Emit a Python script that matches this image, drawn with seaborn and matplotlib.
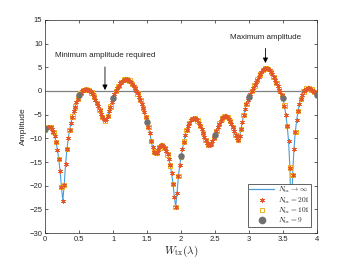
import numpy as np
import pandas as pd
import matplotlib
matplotlib.use('Agg')
import matplotlib.pyplot as plt
from matplotlib.lines import Line2D
import seaborn as sns

# amplitude, W_tx from 0 to 4 in steps of 0.02 (N_tx = 201)
amp_201 = [
    -8.1, -7.8, -7.6, -7.5, -7.6, -8.0, -8.6, -9.5, -10.8, -12.4,      # 0.00 - 0.18
    -14.4, -17.0, -20.3, -23.2, -19.8, -15.5, -12.3, -10.0, -8.2, -6.7,  # 0.20 - 0.38
    -5.4, -4.3, -3.3, -2.4, -1.6, -0.9, -0.4, -0.05, 0.15, 0.28,       # 0.40 - 0.58
    0.32, 0.3, 0.2, 0.0, -0.3, -0.7, -1.2, -1.8, -2.5, -3.2,           # 0.60 - 0.78
    -4.0, -4.8, -5.5, -6.0, -6.2, -6.0, -5.3, -4.3, -3.3, -2.4,        # 0.80 - 0.98
    -1.5, -0.7, 0.0, 0.6, 1.1, 1.6, 1.95, 2.2, 2.4, 2.5,               # 1.00 - 1.18
    2.5, 2.4, 2.2, 1.9, 1.5, 1.1, 0.6, 0.1, -0.5, -1.2,                # 1.20 - 1.38
    -1.9, -2.7, -3.6, -4.5, -5.5, -6.5, -7.6, -8.9, -10.5, -11.9,      # 1.40 - 1.58
    -12.8, -13.1, -13.0, -12.5, -11.9, -11.5, -11.4, -11.6, -12.0, -12.6,  # 1.60 - 1.78
    -13.4, -14.4, -15.7, -17.4, -19.6, -22.3, -24.5, -21.5, -18.0, -15.6,  # 1.80 - 1.98
    -13.8, -12.2, -10.7, -9.3, -8.2, -7.3, -6.7, -6.2, -5.9, -5.8,     # 2.00 - 2.18
    -5.8, -6.0, -6.2, -6.7, -7.4, -8.1, -8.9, -9.7, -10.4, -11.0,      # 2.20 - 2.38
    -11.4, -11.5, -11.2, -10.6, -9.9, -9.2, -8.4, -7.6, -6.9, -6.3,    # 2.40 - 2.58
    -5.8, -5.5, -5.3, -5.3, -5.5, -5.9, -6.4, -7.0, -7.7, -8.5,        # 2.60 - 2.78
    -9.3, -10.0, -10.3, -9.6, -8.0, -6.5, -5.1, -3.8, -2.7, -1.9,      # 2.80 - 2.98
    -1.2, -0.6, 0.0, 0.6, 1.2, 1.8, 2.4, 3.0, 3.5, 4.0,                # 3.00 - 3.18
    4.4, 4.7, 4.85, 4.85, 4.7, 4.4, 4.0, 3.5, 2.9, 2.3,                # 3.20 - 3.38
    1.7, 1.0, 0.3, -0.3, -0.9, -1.5, -3.1, -5.0, -7.4, -10.5,          # 3.40 - 3.58
    -16.2, -28.0, -17.7, -12.2, -8.6, -6.1, -4.2, -2.8, -1.7, -0.8,    # 3.60 - 3.78
    -0.1, 0.3, 0.5, 0.6, 0.55, 0.45, 0.3, 0.1, -0.15, -0.45,           # 3.80 - 3.98
    -0.8,                                                              # 4.00
]
w_201 = np.linspace(0, 4, len(amp_201))

df = pd.DataFrame({'W': w_201, 'amp': amp_201})
df_101 = df.iloc[::2]     # N_tx = 101 samples
df_9 = df.iloc[::25]      # N_tx = 9 samples

labels = [r'$N_{\rm tx}\rightarrow\infty$', r'$N_{\rm tx}=201$',
          r'$N_{\rm tx}=101$', r'$N_{\rm tx}=9$']
c_line, c_star, c_sq, c_dot = '#4a9ed6', '#e2582a', '#f0b020', '#707070'

sns.set_style('ticks')
plt.rcParams['font.family'] = ['Liberation Sans', 'DejaVu Sans']
plt.rcParams['mathtext.fontset'] = 'cm'
plt.rcParams['axes.edgecolor'] = '#262626'
plt.rcParams['axes.linewidth'] = 0.5

fig = plt.figure(figsize=(3.5, 2.63), dpi=100)
ax = fig.add_axes([0.129, 0.114, 0.777, 0.81])

ax.axhline(0, color='#808080', lw=0.9, zorder=1)

sns.lineplot(data=df, x='W', y='amp', ax=ax, color=c_line, lw=0.8,
             estimator=None, sort=False, zorder=2)
sns.scatterplot(data=df, x='W', y='amp', ax=ax, marker=(6, 2, 0), s=9,
                color=c_star, edgecolor=c_star, linewidth=0.55, zorder=4)
sns.scatterplot(data=df_101, x='W', y='amp', ax=ax, marker='s', s=10,
                facecolor='none', edgecolor=c_sq, linewidth=0.7, zorder=3)
sns.scatterplot(data=df_9, x='W', y='amp', ax=ax, marker='o', s=22,
                color=c_dot, edgecolor=c_dot, linewidth=0, zorder=5)

ax.annotate('Minimum amplitude required', xy=(0.88, 0.2), xytext=(0.88, 7.4),
            ha='center', va='center', fontsize=5.8, color='#262626',
            arrowprops=dict(arrowstyle='-|>', color='black', lw=0.6,
                            mutation_scale=7.5, shrinkA=3, shrinkB=0))
ax.annotate('Maximum amplitude', xy=(3.24, 5.9), xytext=(3.24, 11.3),
            ha='center', va='center', fontsize=5.8, color='#262626',
            arrowprops=dict(arrowstyle='-|>', color='black', lw=0.6,
                            mutation_scale=7.5, shrinkA=3, shrinkB=0))

ax.set_xlim(0, 4)
ax.set_ylim(-30, 15)
ax.set_xticks(np.arange(0, 4.01, 0.5))
ax.set_xticklabels(['0', '0.5', '1', '1.5', '2', '2.5', '3', '3.5', '4'])
ax.set_yticks(np.arange(-30, 16, 5))
ax.tick_params(direction='in', length=2.2, width=0.5, labelsize=5.5,
               colors='#262626', top=True, right=True, pad=2)
ax.set_xlabel(r'$W_{\rm tx}(\lambda)$', fontsize=8, labelpad=1)
ax.set_ylabel('Amplitude', fontsize=6, labelpad=2)

handles = [
    Line2D([], [], color=c_line, lw=0.9),
    Line2D([], [], ls='none', marker=(6, 2, 0), ms=3.5, mec=c_star, mew=0.6),
    Line2D([], [], ls='none', marker='s', ms=3.5, mfc='none', mec=c_sq, mew=0.7),
    Line2D([], [], ls='none', marker='o', ms=4.5, mfc=c_dot, mec=c_dot),
]
leg = ax.legend(handles, labels, loc='lower right', fontsize=5.3, frameon=True,
                fancybox=False, edgecolor='#262626', framealpha=1,
                handlelength=3.4, borderpad=0.15, labelspacing=0.0,
                handletextpad=0.5, borderaxespad=0.8)
leg.get_frame().set_linewidth(0.5)

fig.savefig('out.png', dpi=100)
